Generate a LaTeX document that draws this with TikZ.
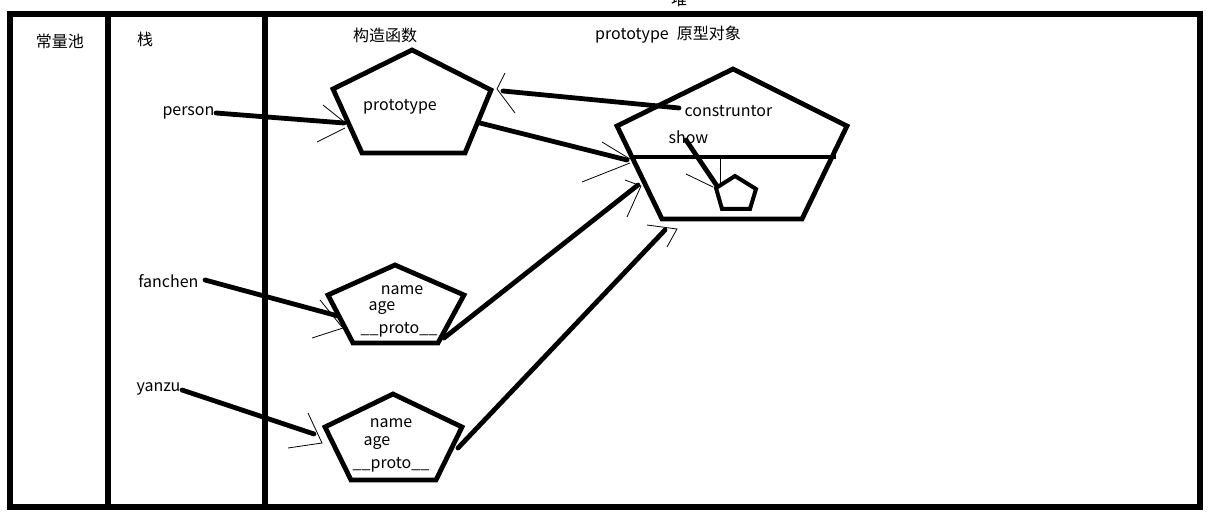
\documentclass[tikz,border=0pt]{standalone}
\usepackage{fontspec}
\setmainfont{Noto Sans CJK SC}

\begin{document}
\begin{tikzpicture}[x=0.75pt, y=-0.75pt, font=\fontsize{12}{14}\selectfont,
  wall/.style={line width=3.8pt},
  penta/.style={line width=3.6pt, line join=miter},
  link/.style={line width=3.6pt, line cap=round},
  hand/.style={line width=0.6pt},
  lbl/.style={inner sep=1pt, yshift=-1.5pt}]
  \useasboundingbox (0,0) rectangle (1210,513);
  % memory areas
  \draw[wall] (10,14) rectangle (1200,507);
  \draw[wall] (108,14) -- (108,507);
  \draw[wall] (265,14) -- (265,507);
  \node[lbl] (pool) at (60,39) {常量池};
  \node[lbl] (stack) at (145,37) {栈};
  \node[lbl] (heap) at (679,-3) {堆};
  \node[lbl] (ctorlbl) at (385,33) {构造函数};
  \node[lbl] (protolbl) at (668,33) {prototype\hspace{6pt}原型对象};

  % constructor
  \draw[penta] (412,50) -- (491,90) -- (465,153) -- (362,153) -- (333,89) -- cycle;
  \node[lbl] (ctorproto) at (400,105) {prototype};

  % prototype object
  \draw[penta] (733,69) -- (847,126) -- (802,219) -- (662,219) -- (617,126) -- cycle;
  \draw[penta] (633,157) -- (836,157);
  \draw[line width=3pt, line join=miter] (735,176) -- (756,189) -- (750,209) -- (722,209) -- (716,188) -- cycle;
  \node[lbl, anchor=west] (ctor) at (683,109) {construntor};
  \node[lbl, anchor=west] (show) at (667,135) {show};

  % instances
  \draw[penta] (395,265) -- (464,295) -- (438,343) -- (353,343) -- (328,295) -- cycle;
  \node[lbl] (fname) at (402,288) {name};
  \node[lbl] (fage) at (382,306) {age};
  \node[lbl] (fproto) at (399,328) {\_\_proto\_\_};
  \draw[penta] (393,394) -- (462,427) -- (436,480) -- (351,480) -- (325,427) -- cycle;
  \node[lbl] (yname) at (391,421) {name};
  \node[lbl] (yage) at (377,441) {age};
  \node[lbl] (yproto) at (391,463) {\_\_proto\_\_};

  % stack variables
  \node[lbl, anchor=east] (person) at (216,111) {person};
  \node[lbl, anchor=east] (fanchen) at (200,279) {fanchen};
  \node[lbl, anchor=east] (yanzu) at (182,387) {yanzu};

  % link ends
  \coordinate (ctorin) at (344,123);
  \coordinate (fin) at (338,316);
  \coordinate (yin) at (314,434);
  \coordinate (fstart) at (205,280);
  \coordinate (ystart) at (182,390);
  \coordinate (ctordot) at (679,108);
  \coordinate (ctorback) at (503,91);
  \coordinate (pout) at (480,123);
  \coordinate (pin) at (627,160);
  \coordinate (fout) at (444,338);
  \coordinate (fto) at (638,185);
  \coordinate (yout) at (458,448);
  \coordinate (yto) at (665,230);
  \coordinate (showout) at (686,140);
  \coordinate (showin) at (717,186);

  \draw[link] (person.east) -- (ctorin);
  \draw[link] (fstart) -- (fin);
  \draw[link] (ystart) -- (yin);
  \draw[link] (ctordot) -- (ctorback);
  \draw[link] (pout) -- (pin);
  \draw[link] (fout) -- (fto);
  \draw[link] (yout) -- (yto);
  \draw[link] (showout) -- (showin);

  % hand drawn arrow heads
  \draw[hand] (323,105) -- (343,121);
  \draw[hand] (317,142) -- (345,128);
  \draw[hand] (505,73) -- (497,89) -- (515,113);
  \draw[hand] (602,142) -- (630,159);
  \draw[hand] (582,182) -- (630,163);
  \draw[hand] (625,180) -- (641,186) -- (627,217);
  \draw[hand] (647,225) -- (677,229) -- (667,247);
  \draw[hand] (686,174) -- (713,187);
  \draw[hand] (720,157) -- (720,183);
  \draw[hand] (320,300) -- (342,327);
  \draw[hand] (312,338) -- (343,328);
  \draw[hand] (308,413) -- (322,443) -- (288,448);
\end{tikzpicture}
\end{document}
